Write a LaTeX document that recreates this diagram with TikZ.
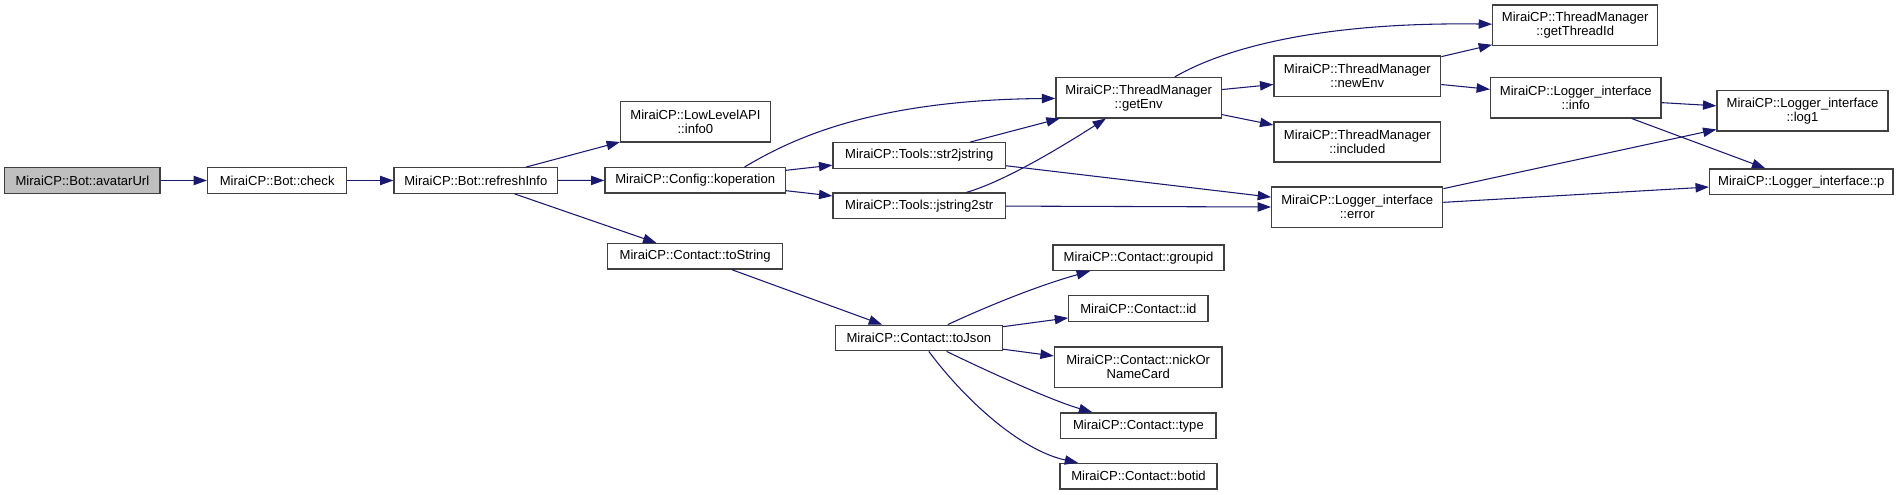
\documentclass[tikz,border=0pt]{standalone}
\usepackage{fontspec}
\setmainfont{Liberation Sans}
\usepackage{xcolor}
\definecolor{edgeblue}{RGB}{25,25,112}
\definecolor{boxgray}{RGB}{64,64,64}
\definecolor{curgray}{RGB}{191,191,191}
\usepackage{tikz}
\usetikzlibrary{arrows.meta,positioning,calc}

\begin{document}
\begin{tikzpicture}[x=0.75pt,y=-0.75pt,font=\fontsize{9.8}{10.5}\selectfont,
  box/.style={draw=boxgray,line width=1pt,fill=white,inner sep=0pt,align=center},
  edge/.style={edgeblue,line width=0.8pt,-{Triangle[length=10pt,width=7pt]}}]
\useasboundingbox (0,0) rectangle (1901,495);
\node[box,fill=curgray,minimum width=116.5pt,minimum height=19.1pt] (avatar) at (82.4,180.5) {MiraiCP::Bot::avatarUrl};
\foreach \n/\x/\y/\w/\h/\t in {
  check/277.2/180.5/139.2/25.5/{MiraiCP::Bot::check},
  refresh/475.8/180.5/163.5/25.5/{MiraiCP::Bot::refreshInfo},
  info0/695.4/121.9/149.6/40.3/{MiraiCP::LowLevelAPI\\::info0},
  koper/695.2/180.4/180.4/25.5/{MiraiCP::Config::koperation},
  tostr/695.2/256.3/175/25.5/{MiraiCP::Contact::toString},
  str2j/919.2/155.5/172.4/25.5/{MiraiCP::Tools::str2jstring},
  j2str/919.2/205.8/172.4/25.5/{MiraiCP::Tools::jstring2str},
  getenv/1138.7/97.7/165.6/40.3/{MiraiCP::ThreadManager\\::getEnv},
  newenv/1357.3/76.3/166.6/40.3/{MiraiCP::ThreadManager\\::newEnv},
  included/1357.3/142/166.6/40.3/{MiraiCP::ThreadManager\\::included},
  thrid/1575.2/25.3/165/40.3/{MiraiCP::ThreadManager\\::getThreadId},
  loginfo/1575.8/97.7/170.4/40.3/{MiraiCP::Logger\_interface\\::info},
  logone/1802.5/110.8/171/40.3/{MiraiCP::Logger\_interface\\::log1},
  logp/1801.3/181.7/183.5/25.5/{MiraiCP::Logger\_interface::p},
  logerr/1357.2/207.3/171/40.3/{MiraiCP::Logger\_interface\\::error},
  tojson/918.8/338/167/25.5/{MiraiCP::Contact::toJson},
  groupid/1138.5/257.8/171/25.5/{MiraiCP::Contact::groupid},
  cid/1138.4/308.5/139.2/25.5/{MiraiCP::Contact::id},
  nick/1138.2/367.2/167.5/40.3/{MiraiCP::Contact::nickOr\\NameCard},
  ctype/1138.4/425.7/155.2/25.5/{MiraiCP::Contact::type},
  botid/1138.5/476.3/157/25.5/{MiraiCP::Contact::botid}}
  \node[box,minimum width={\w*0.75pt},minimum height={\h*0.75pt}] (\n) at (\x,\y) {\t};
\foreach \a/\b in {avatar/check, check/refresh, refresh/info0, refresh/koper, refresh/tostr,
  koper/str2j, koper/j2str, str2j/getenv, str2j/logerr, j2str/logerr,
  getenv/newenv, getenv/included, newenv/thrid, newenv/loginfo,
  loginfo/logone, loginfo/logp, logerr/logone, logerr/logp,
  tostr/tojson, tojson/cid, tojson/nick}
  \draw[edge] (\a) -- (\b);
\draw[edge] ([xshift=37pt]koper.north) .. controls (790,140) and (870,100) .. (getenv);
\draw[edge] (j2str) .. controls (1010,180) and (1080,135) .. (getenv);
\draw[edge] (getenv) .. controls (1230,45) and (1330,22) .. (thrid);
\draw[edge] (tojson) .. controls (990,305) and (1040,285) .. (groupid);
\draw[edge] (tojson) .. controls (985,370) and (1050,400) .. (ctype);
\draw[edge] (tojson) .. controls (965,400) and (1020,450) .. (botid);
\end{tikzpicture}
\end{document}
